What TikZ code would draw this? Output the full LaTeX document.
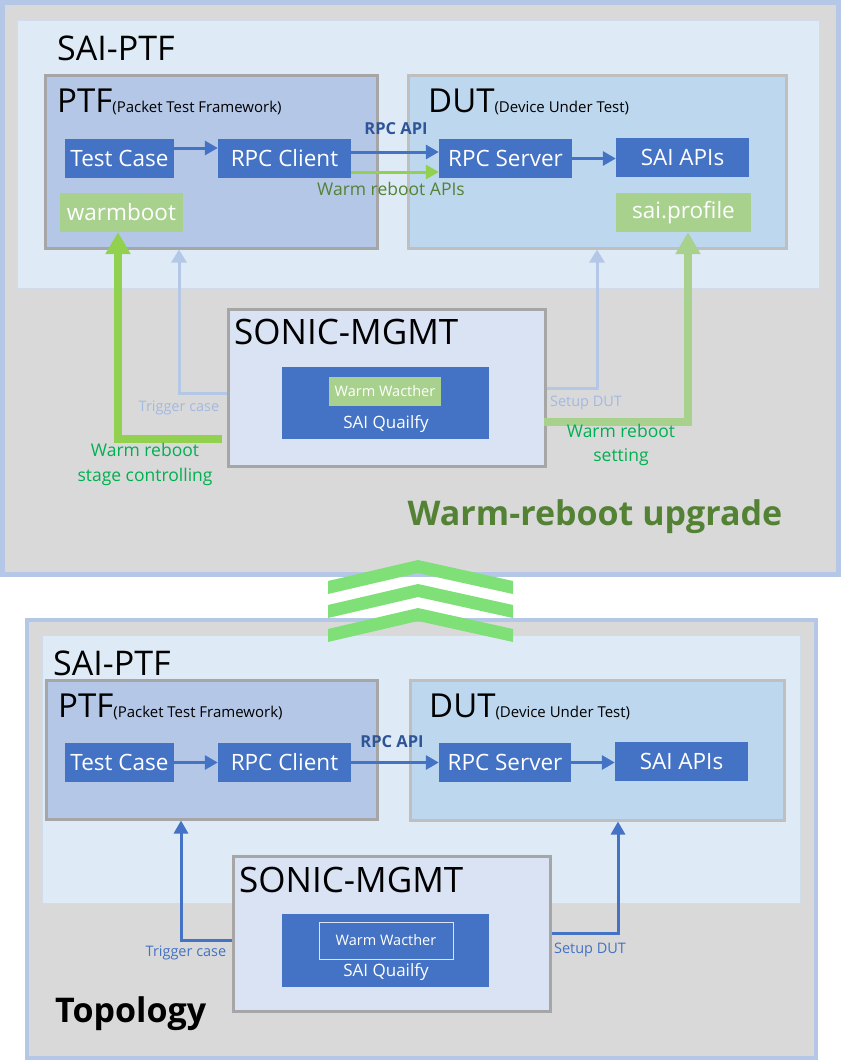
\documentclass[tikz,border=0pt]{standalone}
\usepackage{fontspec}
\setmainfont{Open Sans}
\usepackage{tikz}
\usetikzlibrary{arrows.meta}

\definecolor{panelgray}{HTML}{D9D9D9}
\definecolor{panelrim}{HTML}{B4C7E7}
\definecolor{saibg}{HTML}{DEEBF7}
\definecolor{sairim}{HTML}{D0DCEC}
\definecolor{ptffill}{HTML}{B4C7E7}
\definecolor{dutfill}{HTML}{BDD7EE}
\definecolor{mgmtfill}{HTML}{DAE3F3}
\definecolor{rimdark}{HTML}{A6A6A6}
\definecolor{rimlight}{HTML}{BFBFBF}
\definecolor{boxblue}{HTML}{4472C4}
\definecolor{boxgreen}{HTML}{A9D18E}
\definecolor{linkgreen}{HTML}{92D050}
\definecolor{lightlink}{HTML}{B4C7E7}
\definecolor{lighttext}{HTML}{A4B9E0}
\definecolor{apiblue}{HTML}{2F5597}
\definecolor{olive}{HTML}{548235}
\definecolor{brightgreen}{HTML}{00B050}
\definecolor{chevron}{RGB}{127,224,119}

\newcommand\fsz[1]{\fontsize{#1}{#1}\selectfont}

\begin{document}
\begin{tikzpicture}[x=1pt,y=-1pt,
  panel/.style={draw=panelrim, line width=5pt, fill=panelgray},
  saipanel/.style={draw=sairim, line width=1pt, fill=saibg},
  frame/.style={rectangle, inner sep=0pt, line width=3pt},
  bluebox/.style={rectangle, inner sep=0pt, fill=boxblue, text=white, minimum height=39pt, font=\fsz{22.5}},
  greenbox/.style={rectangle, inner sep=0pt, fill=boxgreen, text=white, minimum height=39pt, font=\fsz{22.5}},
  title/.style={anchor=base west, inner sep=0pt},
  bluelink/.style={draw=boxblue, line width=3pt, -{Triangle[width=14pt,length=13pt]}},
  lightlinkstyle/.style={draw=lightlink, line width=3pt, -{Triangle[width=15pt,length=13pt]}},
  greenlink/.style={line width=8pt, -{Triangle[width=24pt,length=22pt]}}]
\useasboundingbox (0,0) rectangle (841,1062);
\fill[white] (0,0) rectangle (841,1062);

% upper panel: warm-reboot upgrade
\draw[panel] (2.5,2.5) rectangle (838.5,574.5);
\draw[saipanel] (17,21) rectangle (819,288);
\node[title] (saiU) at (57,61) {\fsz{34}SAI-PTF};
\node[frame, draw=rimdark, fill=ptffill, minimum width=332pt, minimum height=172pt] (ptfU) at (211,162) {};
\node[frame, draw=rimlight, fill=dutfill, minimum width=378pt, minimum height=172pt] (dutU) at (597,162) {};
\node[title] (ptfUt) at (57,113) {\fsz{33}PTF\fsz{15}(Packet Test Framework)};
\node[title] (dutUt) at (428,113) {\fsz{33}DUT\fsz{15}(Device Under Test)};
\node[bluebox, minimum width=109pt] (tcU) at (119.5,158.5) {Test Case};
\node[bluebox, minimum width=133pt] (rcU) at (284.5,158.5) {RPC Client};
\node[bluebox, minimum width=133pt] (rsU) at (505.5,158.5) {RPC Server};
\node[bluebox, minimum width=133pt] (saU) at (682.5,157.5) {SAI APIs};
\node[greenbox, minimum width=123pt] (wbU) at (121.5,212.5) {warmboot};
\node[greenbox, minimum width=135pt] (spU) at (683.5,212.5) {sai.profile};
\draw[bluelink] ([yshift=10.5pt]tcU.east) -- ([yshift=10.5pt]rcU.west);
\draw[bluelink] ([yshift=6.5pt]rcU.east) -- ([yshift=6.5pt]rsU.west);
\draw[bluelink, draw=linkgreen] ([yshift=-13.5pt]rcU.east) -- ([yshift=-13.5pt]rsU.west);
\draw[bluelink] (rsU.east) -- (rsU.east -| saU.west);
\node[text=apiblue, font=\bfseries\fsz{16.5}] (apiU) at (396,129) {RPC API};
\node[text=olive, font=\fsz{17.5}] (wapiU) at (391,189) {Warm reboot APIs};

\node[frame, draw=rimdark, fill=mgmtfill, minimum width=317pt, minimum height=157pt] (mgU) at (386.5,387.5) {};
\coordinate (trU) at (179,393);
\coordinate (suU) at (597,388);
\coordinate (wcU) at (118,439);
\coordinate (wsU) at (688,422);
\draw[lightlinkstyle] (mgU.west |- trU) -- (trU) -- (trU |- ptfU.south);
\draw[lightlinkstyle] (mgU.east |- suU) -- (suU) -- (suU |- dutU.south);
\draw[greenlink, draw=linkgreen] ([xshift=-5pt]mgU.west |- wcU) -- (wcU) -- (wcU |- wbU.south);
\draw[greenlink, draw=boxgreen] ([xshift=-3pt]mgU.east |- wsU) -- (wsU) -- (wsU |- spU.south);
\node[title] (mgUt) at (234,344) {\fsz{35}SONIC-MGMT};
\node[rectangle, inner sep=0pt, fill=boxblue, minimum width=207pt, minimum height=72pt] (sqU) at (385.5,403) {};
\node[greenbox, minimum width=112pt, minimum height=29pt, font=\fsz{14.5}] (wwU) at (385,391.5) {Warm Wacther};
\node[text=white, font=\fsz{17}] (sqUt) at (386,424) {SAI Quailfy};
\node[text=lighttext, font=\fsz{14.5}] (trUt) at (179,408) {Trigger case};
\node[text=lighttext, font=\fsz{14.5}] (suUt) at (586,403) {Setup DUT};
\node[text=brightgreen, align=center, font=\fsz{17.5}] (wcUt) at (145,464.5) {Warm reboot\\[7pt]stage controlling};
\node[text=brightgreen, align=center, font=\fsz{17.5}] (wsUt) at (621,445) {Warm reboot\\[6pt]setting};
\node[text=olive, font=\bfseries\fsz{34}] (upgU) at (595,517) {Warm-reboot upgrade};

% lower panel: topology
\draw[panel, line width=4pt] (27,620) rectangle (815.5,1058);
\draw[saipanel] (42,635) rectangle (800,903);
\node[title] (saiL) at (53,675) {\fsz{34}SAI-PTF};
\node[frame, draw=rimdark, fill=ptffill, minimum width=331pt, minimum height=139pt] (ptfL) at (211.5,749.5) {};
\node[frame, draw=rimlight, fill=dutfill, minimum width=374pt, minimum height=140pt] (dutL) at (597,750) {};
\node[title] (ptfLt) at (58,717) {\fsz{33}PTF\fsz{15}(Packet Test Framework)};
\node[title] (dutLt) at (429,717) {\fsz{33}DUT\fsz{15}(Device Under Test)};
\node[bluebox, minimum width=109pt] (tcL) at (119.5,762.5) {Test Case};
\node[bluebox, minimum width=133pt] (rcL) at (284.5,762.5) {RPC Client};
\node[bluebox, minimum width=132pt] (rsL) at (505,762.5) {RPC Server};
\node[bluebox, minimum width=133pt] (saL) at (681.5,761.5) {SAI APIs};
\draw[bluelink] (tcL.east) -- (rcL.west);
\draw[bluelink] (rcL.east) -- (rsL.west);
\draw[bluelink] (rsL.east) -- (rsL.east -| saL.west);
\node[text=apiblue, font=\bfseries\fsz{16.5}] (apiL) at (392,742) {RPC API};

\node[frame, draw=rimdark, fill=mgmtfill, minimum width=317pt, minimum height=155pt] (mgL) at (391.5,933.5) {};
\coordinate (trL) at (181,940);
\coordinate (suL) at (618,933);
\draw[bluelink] (mgL.west |- trL) -- (trL) -- (trL |- ptfL.south);
\draw[bluelink] (mgL.east |- suL) -- (suL) -- (suL |- dutL.south);
\node[title] (mgLt) at (239,892) {\fsz{35}SONIC-MGMT};
\node[rectangle, inner sep=0pt, fill=boxblue, minimum width=207pt, minimum height=73pt] (sqL) at (385.5,950.5) {};
\node[rectangle, inner sep=0pt, draw=white!80!boxblue, line width=1pt, minimum width=134pt, minimum height=37pt, text=white, font=\fsz{14.5}] (wwL) at (386,940.5) {Warm Wacther};
\node[text=white, font=\fsz{17}] (sqLt) at (386,972) {SAI Quailfy};
\node[text=boxblue, font=\fsz{14.5}] (trLt) at (186,953) {Trigger case};
\node[text=boxblue, font=\fsz{14.5}] (suLt) at (590,950) {Setup DUT};
\node[title, font=\bfseries] (topoL) at (55,1022) {\fsz{34}Topology};

% three chevrons between the panels
\foreach \dy in {0,24,48}
  \fill[chevron] (328,581+\dy) -- (418,560+\dy) -- (513,581+\dy) -- (513,594+\dy) -- (418,573+\dy) -- (328,594+\dy) -- cycle;
\end{tikzpicture}
\end{document}
